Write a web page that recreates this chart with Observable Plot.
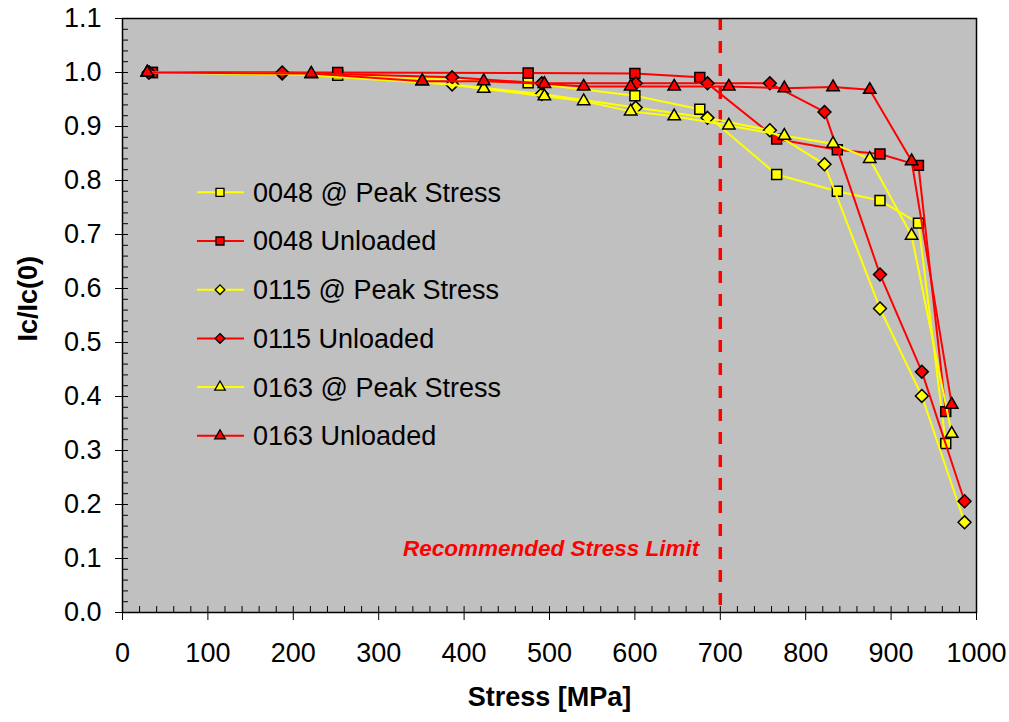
<!DOCTYPE html>
<html><head><meta charset="utf-8">
<script src="https://cdn.jsdelivr.net/npm/d3@7"></script>
<script src="https://cdn.jsdelivr.net/npm/@observablehq/plot@0.6"></script>
<style>
body{margin:0;background:#fff;}
#chart svg{display:block}
</style>
</head><body><div id="chart"></div>
<script>
// ---- data ----
const seriesNames = ["0048 @ Peak Stress","0048 Unloaded","0115 @ Peak Stress","0115 Unloaded","0163 @ Peak Stress","0163 Unloaded"];
const stress0048 = [35, 252, 475, 600, 676, 766, 837, 887, 932, 964];
const peak0048   = [1.0, 0.995, 0.981, 0.957, 0.932, 0.811, 0.780, 0.763, 0.721, 0.313];
const unl0048    = [1.0, 1.0, 0.999, 0.998, 0.991, 0.877, 0.857, 0.849, 0.828, 0.372];
const stress0115 = [31, 187, 386, 491, 601, 685, 758, 822, 887, 936, 986];
const peak0115   = [1.0, 0.998, 0.978, 0.960, 0.935, 0.916, 0.893, 0.830, 0.563, 0.401, 0.167];
const unl0115    = [1.0, 1.0, 0.991, 0.980, 0.980, 0.980, 0.980, 0.927, 0.626, 0.446, 0.206];
const stress0163 = [29, 221, 351, 423, 494, 540, 595, 646, 710, 775, 832, 875, 924, 971];
const peak0163   = [1.0, 0.997, 0.984, 0.970, 0.956, 0.947, 0.928, 0.919, 0.902, 0.883, 0.868, 0.840, 0.698, 0.331];
const unl0163    = [1.0, 0.998, 0.984, 0.984, 0.979, 0.974, 0.974, 0.974, 0.974, 0.971, 0.973, 0.968, 0.836, 0.385];
const xTicks = [0, 100, 200, 300, 400, 500, 600, 700, 800, 900, 1000];
const yTicks = [0.0, 0.1, 0.2, 0.3, 0.4, 0.5, 0.6, 0.7, 0.8, 0.9, 1.0, 1.1];
const xMinorStep = 20;
const yMinorStep = 0.02;
const limitStress = 700;
const limitLabel = "Recommended Stress Limit";
const xLabel = "Stress [MPa]";
const yLabel = "Ic/Ic(0)";

// ---- build table ----
const pairs = [[stress0048, peak0048],[stress0048, unl0048],[stress0115, peak0115],[stress0115, unl0115],[stress0163, peak0163],[stress0163, unl0163]];
const seriesData = seriesNames.map((name, i) => pairs[i][0].map((s, j) => ({series: name, stress: s, ic: pairs[i][1][j]})));
const xMinor = d3.range(0, 1000 + 1e-9, xMinorStep);
const yMinor = d3.range(0, 1.1 + 1e-9, yMinorStep);

// ---- styles ----
const colorOf = n => n.includes("Peak") ? "#FFFF00" : "#FF0000";
const symbolOf = n => n.startsWith("0048") ? "square" : n.startsWith("0115") ? "diamond2" : "triangle";
const rOf = n => n.startsWith("0048") ? 5.6 : n.startsWith("0115") ? 5.8 : 4.6;

const FONT = "'Liberation Sans', Arial, sans-serif";
const marks = [
  Plot.frame({fill: "#C0C0C0"}),
  // inward minor ticks (about 6px long)
  Plot.ruleY(yMinor, {x1: 0, x2: 7, stroke: "black", strokeWidth: 1}),
  Plot.ruleX(xMinor, {y1: 0, y2: 0.011, stroke: "black", strokeWidth: 1}),
  Plot.axisX(xTicks, {tickSize: 8, tickPadding: 22, tickFormat: d => String(d), label: null, fontSize: 27}),
  Plot.axisY(yTicks, {tickSize: 7, tickPadding: 14, tickFormat: d3.format(".1f"), label: null, fontSize: 27}),
  Plot.ruleX([limitStress], {stroke: "#FF0000", strokeWidth: 3.5, strokeDasharray: "12,11"}),
  Plot.text([limitLabel], {x: () => limitStress, frameAnchor: "bottom", dy: -57, dx: -21, textAnchor: "end", fill: "#FF0000", fontWeight: "bold", fontStyle: "italic", fontSize: 22.5}),
];
seriesData.forEach((rows, i) => {
  const n = seriesNames[i];
  marks.push(Plot.line(rows, {x: "stress", y: "ic", stroke: colorOf(n), strokeWidth: 2}));
  marks.push(Plot.dot(rows, {x: "stress", y: "ic", symbol: symbolOf(n), r: rOf(n), fill: colorOf(n), stroke: "black", strokeWidth: 1.5}));
});
marks.push(Plot.frame({stroke: "black", strokeWidth: 1.5}));
marks.push(Plot.text([xLabel], {frameAnchor: "bottom", dy: 93, fontWeight: "bold", fontSize: 27}));
marks.push(Plot.text([yLabel], {frameAnchor: "left", dx: -94, dy: 26, rotate: -90, fontWeight: "bold", fontSize: 27}));

const chart = Plot.plot({
  width: 1009, height: 722,
  marginLeft: 122, marginRight: 33, marginTop: 18, marginBottom: 110,
  x: {domain: [0, 1000]},
  y: {domain: [0, 1.1]},
  style: {fontFamily: FONT, fontSize: "27px", background: "white", color: "black", overflow: "visible"},
  marks
});

// ---- legend inside plot area ----
const svg = d3.select(chart);
const lg = svg.append("g").attr("font-family", FONT).attr("font-size", 27).attr("text-anchor", "start");
const symMap = {square: d3.symbolSquare, diamond2: d3.symbolDiamond2, triangle: d3.symbolTriangle};
seriesNames.forEach((n, i) => {
  const cy = 192.3 + i * 48.7;
  const g = lg.append("g").attr("transform", `translate(0,${cy})`);
  g.append("line").attr("x1", 197).attr("x2", 244).attr("y1", 0).attr("y2", 0).attr("stroke", colorOf(n)).attr("stroke-width", 2);
  const area = symbolOf(n) === "square" ? 64 : symbolOf(n) === "diamond2" ? 60 : 48;
  g.append("path").attr("d", d3.symbol(symMap[symbolOf(n)], area)()).attr("transform", "translate(220,0)")
    .attr("fill", colorOf(n)).attr("stroke", "black").attr("stroke-width", 1.3);
  g.append("text").attr("x", 253).attr("y", 0).attr("dy", "0.35em").attr("fill", "black").attr("text-anchor", "start").text(n);
});

document.getElementById("chart").appendChild(chart);
</script>
</body></html>
